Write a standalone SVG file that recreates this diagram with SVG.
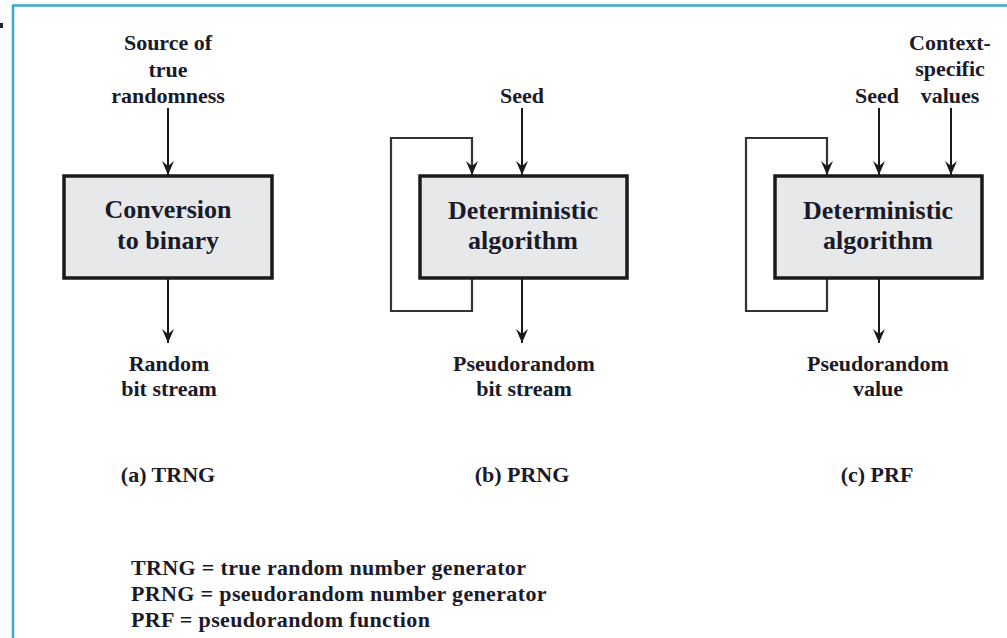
<svg xmlns="http://www.w3.org/2000/svg" width="1007" height="638" viewBox="0 0 1007 638">
<style>
text{font-family:"Liberation Serif","Times New Roman",serif;font-weight:bold;fill:#1a1a2a;}
.lbl{font-size:22px;text-anchor:middle;}
.box{font-size:26px;text-anchor:middle;}
.leg{font-size:22px;letter-spacing:0.35px;}
.arr{stroke:#1a1a1a;stroke-width:2;fill:none;marker-end:url(#ah);}
.loop{stroke:#333;stroke-width:2.2;fill:none;marker-end:url(#ah);}
.nb{fill:#e7e8e9;stroke:#1a1a1a;stroke-width:3.5;}
</style>
<defs>
<marker id="ah" markerWidth="14" markerHeight="12" refX="14" refY="6" orient="auto" markerUnits="userSpaceOnUse" viewBox="0 0 14 12">
<path d="M0,0 L14,6 L0,12 L5,6 Z" fill="#1a1a1a"/>
</marker>
</defs>
<rect width="1007" height="638" fill="#ffffff"/>
<g id="frame">
<line x1="12" y1="5.5" x2="1007" y2="5.5" stroke="#3aa8cc" stroke-width="2.5"/>
<line x1="13" y1="5" x2="13" y2="638" stroke="#3aa8cc" stroke-width="2.5"/>
<rect x="0" y="23" width="3" height="5" fill="#222"/>
</g>
<g id="connectors">
<line class="arr" x1="168" y1="108" x2="168" y2="175"/>
<line class="arr" x1="168" y1="279" x2="168" y2="343"/>
<line class="arr" x1="522" y1="108" x2="522" y2="175"/>
<line class="arr" x1="522" y1="279" x2="522" y2="343"/>
<polyline class="loop" points="472,279 472,311 391,311 391,138 472,138 472,175"/>
<line class="arr" x1="879" y1="108" x2="879" y2="175"/>
<line class="arr" x1="951" y1="108" x2="951" y2="175"/>
<line class="arr" x1="879" y1="279" x2="879" y2="343"/>
<polyline class="loop" points="827,279 827,311 746,311 746,138 827,138 827,175"/>
</g>
<g id="trng">
<rect class="nb" x="64" y="176" width="208" height="102"/>
<text class="box" x="168" y="218">Conversion</text>
<text class="box" x="168" y="249">to binary</text>
</g>
<g id="prng">
<rect class="nb" x="420" y="176" width="207" height="102"/>
<text class="box" x="523" y="219">Deterministic</text>
<text class="box" x="523" y="249">algorithm</text>
</g>
<g id="prf">
<rect class="nb" x="775" y="176" width="207" height="102"/>
<text class="box" x="878" y="219">Deterministic</text>
<text class="box" x="878" y="249">algorithm</text>
</g>
<g id="labels">
<text class="lbl" x="168" y="50">Source of</text>
<text class="lbl" x="168" y="77">true</text>
<text class="lbl" x="168" y="103">randomness</text>
<text class="lbl" x="522" y="103">Seed</text>
<text class="lbl" x="877" y="103">Seed</text>
<text class="lbl" x="950" y="50">Context-</text>
<text class="lbl" x="950" y="76">specific</text>
<text class="lbl" x="950" y="103">values</text>
<text class="lbl" x="169" y="371">Random</text>
<text class="lbl" x="169" y="396">bit stream</text>
<text class="lbl" x="524" y="371">Pseudorandom</text>
<text class="lbl" x="524" y="396">bit stream</text>
<text class="lbl" x="878" y="371">Pseudorandom</text>
<text class="lbl" x="878" y="396">value</text>
<text class="lbl" x="168" y="482">(a) TRNG</text>
<text class="lbl" x="522" y="482">(b) PRNG</text>
<text class="lbl" x="877" y="482">(c) PRF</text>
</g>
<g id="legend">
<text class="leg" x="131" y="575">TRNG = true random number generator</text>
<text class="leg" x="131" y="601">PRNG = pseudorandom number generator</text>
<text class="leg" x="131" y="627">PRF = pseudorandom function</text>
</g>
</svg>
